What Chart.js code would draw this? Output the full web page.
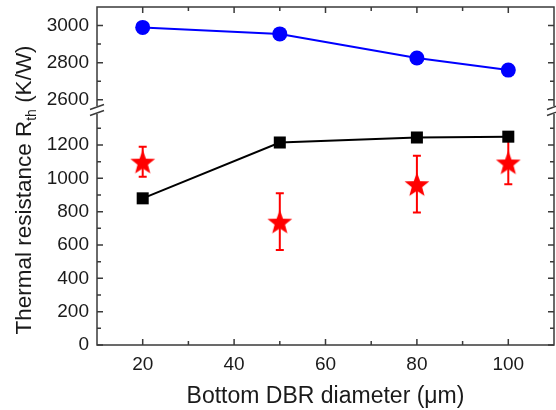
<!DOCTYPE html>
<html>
<head>
<meta charset="utf-8">
<script src="https://cdn.jsdelivr.net/npm/chart.js@4.4.0/dist/chart.umd.min.js"></script>
<style>
    html, body { margin: 0; padding: 0; background: #ffffff; }
    #wrap { width: 556px; height: 410px; position: relative; }
</style>
</head>
<body>
<div id="wrap"><canvas id="chartRth"></canvas></div>
<script>
// Data
const diameters = [20, 50, 80, 100];
const rthUpper = [2990, 2955, 2825, 2760];      // blue circles
const rthLower = [880, 1215, 1245, 1250];       // black squares
const rthMeasured = [1100, 740, 965, 1095];     // red stars
const rthError = [90, 170, 170, 130];           // red error bars (+/-)

// Tick labels
const xTicks = [20, 40, 60, 80, 100];
const xMinorTicks = [30, 50, 70, 90];
const yLowTicks = [0, 200, 400, 600, 800, 1000, 1200];
const yLowMinorTicks = [100, 300, 500, 700, 900, 1100, 1300];
const yHighTicks = [2600, 2800, 3000];
const yHighMinorTicks = [2700, 2900];

const fontFamily = "'Liberation Sans', Arial, Helvetica, sans-serif";
const axisColor = '#3a3a3a';
const textColor = '#1a1a1a';

// Filled five-point star used as point style
function makeStar(radius, color) {
    const size = Math.ceil(radius * 2 + 2);
    const c = document.createElement('canvas');
    c.width = size;
    c.height = size;
    const g = c.getContext('2d');
    const cx = size / 2, cy = size / 2 + radius * 0.1;
    const inner = radius * 0.42;
    g.beginPath();
    for (let i = 0; i < 10; i++) {
        const r = i % 2 === 0 ? radius : inner;
        const a = -Math.PI / 2 + i * Math.PI / 5;
        const px = cx + r * Math.cos(a);
        const py = cy + r * Math.sin(a);
        if (i === 0) g.moveTo(px, py); else g.lineTo(px, py);
    }
    g.closePath();
    g.fillStyle = color;
    g.fill();
    return c;
}

function toPoints(xs, ys) {
    return xs.map((x, i) => ({ x: x, y: ys[i] }));
}

// Frame, inward ticks, axis break, error bars and y title
const decorations = {
    id: 'decorations',
    beforeDatasetsDraw(chart) {
        const ctx = chart.ctx;
        const meta = chart.getDatasetMeta(2);
        const yScale = chart.scales.yLow;
        ctx.save();
        ctx.strokeStyle = '#ff0000';
        ctx.lineWidth = 2;
        meta.data.forEach((pt, i) => {
            const v = rthMeasured[i], e = rthError[i];
            const yTop = yScale.getPixelForValue(v + e);
            const yBot = yScale.getPixelForValue(v - e);
            ctx.beginPath();
            ctx.moveTo(pt.x, yTop);
            ctx.lineTo(pt.x, yBot);
            ctx.moveTo(pt.x - 4, yTop);
            ctx.lineTo(pt.x + 4, yTop);
            ctx.moveTo(pt.x - 4, yBot);
            ctx.lineTo(pt.x + 4, yBot);
            ctx.stroke();
        });
        ctx.restore();
    },
    afterDraw(chart) {
        const ctx = chart.ctx;
        const a = chart.chartArea;
        const xs = chart.scales.x, yl = chart.scales.yLow, yh = chart.scales.yHigh;
        ctx.save();
        ctx.strokeStyle = axisColor;
        ctx.lineWidth = 1.5;
        ctx.strokeRect(a.left, a.top, a.right - a.left, a.bottom - a.top);

        function xTick(v, len) {
            const px = xs.getPixelForValue(v);
            ctx.moveTo(px, a.bottom);
            ctx.lineTo(px, a.bottom - len);
            ctx.moveTo(px, a.top);
            ctx.lineTo(px, a.top + len);
        }
        function yTick(scale, v, len) {
            const py = scale.getPixelForValue(v);
            ctx.moveTo(a.left, py);
            ctx.lineTo(a.left + len, py);
            ctx.moveTo(a.right, py);
            ctx.lineTo(a.right - len, py);
        }
        ctx.beginPath();
        xTicks.forEach(v => xTick(v, 6));
        xMinorTicks.forEach(v => xTick(v, 4));
        yLowTicks.forEach(v => yTick(yl, v, 6));
        yLowMinorTicks.forEach(v => yTick(yl, v, 4));
        yHighTicks.forEach(v => yTick(yh, v, 6));
        yHighMinorTicks.forEach(v => yTick(yh, v, 4));
        ctx.stroke();

        // axis break marks
        const by = yl.top;
        [a.left, a.right].forEach(bx => {
            ctx.fillStyle = '#ffffff';
            ctx.fillRect(bx - 3, by - 4, 6, 8);
            ctx.beginPath();
            ctx.moveTo(bx - 7, by - 0.5);
            ctx.lineTo(bx + 7, by - 5.5);
            ctx.moveTo(bx - 7, by + 5.5);
            ctx.lineTo(bx + 7, by + 0.5);
            ctx.stroke();
        });

        // y axis title with subscript
        ctx.fillStyle = textColor;
        ctx.textBaseline = 'alphabetic';
        ctx.textAlign = 'left';
        const mainFont = '22.5px ' + fontFamily;
        const subFont = '14px ' + fontFamily;
        const head = 'Thermal resistance R', sub = 'th', tail = ' (K/W)';
        ctx.font = mainFont;
        const wHead = ctx.measureText(head).width;
        const wTail = ctx.measureText(tail).width;
        ctx.font = subFont;
        const wSub = ctx.measureText(sub).width;
        const total = wHead + wSub + wTail;
        ctx.translate(31, 190);
        ctx.rotate(-Math.PI / 2);
        let u = -total / 2;
        ctx.font = mainFont;
        ctx.fillText(head, u, 0);
        u += wHead;
        ctx.font = subFont;
        ctx.fillText(sub, u, 5);
        u += wSub;
        ctx.font = mainFont;
        ctx.fillText(tail, u, 0);
        ctx.restore();
    }
};

const tickFont = { family: fontFamily, size: 19 };
const plainLabel = v => String(v);

function fitY(s) {
    s.width = 97;
    s.paddingTop = 0;
    s.paddingBottom = 0;
}

const ctx = document.getElementById('chartRth').getContext('2d');
const chart = new Chart(ctx, {
    type: 'line',
    data: {
        datasets: [
            {
                data: toPoints(diameters, rthUpper),
                yAxisID: 'yHigh',
                borderColor: '#0000ff',
                backgroundColor: '#0000ff',
                borderWidth: 2,
                pointStyle: 'circle',
                pointRadius: 7.5,
                pointBorderWidth: 0,
                tension: 0
            },
            {
                data: toPoints(diameters, rthLower),
                yAxisID: 'yLow',
                borderColor: '#000000',
                backgroundColor: '#000000',
                borderWidth: 2,
                pointStyle: 'rect',
                pointRadius: 8.5,
                pointBorderWidth: 0,
                tension: 0
            },
            {
                data: toPoints(diameters, rthMeasured),
                yAxisID: 'yLow',
                showLine: false,
                pointStyle: makeStar(13, '#ff0000'),
                pointRadius: 13
            }
        ]
    },
    options: {
        responsive: true,
        maintainAspectRatio: false,
        animation: false,
        layout: { autoPadding: false, padding: { top: 7, right: 2, left: 0, bottom: 0 } },
        plugins: {
            legend: { display: false },
            tooltip: { enabled: false }
        },
        scales: {
            x: {
                type: 'linear',
                position: 'bottom',
                min: 10,
                max: 110,
                afterBuildTicks: s => { s.ticks = xTicks.map(v => ({ value: v })); },
                afterFit: s => { s.height = 65; s.paddingLeft = 0; s.paddingRight = 0; },
                grid: { display: false, drawTicks: false },
                border: { display: false },
                ticks: { font: tickFont, color: textColor, padding: 8, maxRotation: 0, autoSkip: false, callback: plainLabel },
                title: {
                    display: true,
                    text: 'Bottom DBR diameter (μm)',
                    font: { family: fontFamily, size: 23 },
                    color: textColor,
                    padding: { top: 0, bottom: 0 }
                }
            },
            yLow: {
                type: 'linear',
                position: 'left',
                stack: 'rth',
                stackWeight: 235,
                min: 0,
                max: 1410,
                afterBuildTicks: s => { s.ticks = yLowTicks.map(v => ({ value: v })); },
                afterFit: fitY,
                grid: { display: false, drawTicks: false },
                border: { display: false },
                ticks: { font: tickFont, color: textColor, padding: 8, autoSkip: false, callback: plainLabel }
            },
            yHigh: {
                type: 'linear',
                position: 'left',
                stack: 'rth',
                stackWeight: 103,
                min: 2545,
                max: 3100,
                afterBuildTicks: s => { s.ticks = yHighTicks.map(v => ({ value: v })); },
                afterFit: fitY,
                grid: { display: false, drawTicks: false },
                border: { display: false },
                ticks: { font: tickFont, color: textColor, padding: 8, autoSkip: false, callback: plainLabel }
            }
        }
    },
    plugins: [decorations]
});
</script>
</body>
</html>
